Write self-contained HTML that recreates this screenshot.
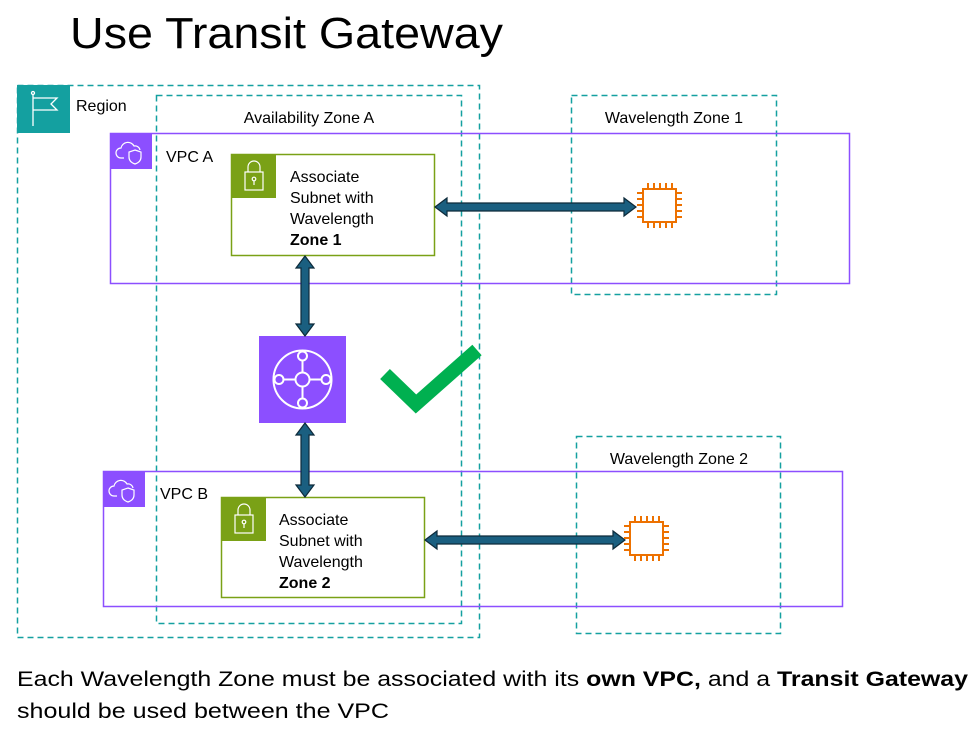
<!DOCTYPE html>
<html><head><meta charset="utf-8"><style>
html,body{margin:0;padding:0;background:#fff;}
svg{display:block;font-family:"Liberation Sans",sans-serif;}
</style></head><body>
<svg width="975" height="730" viewBox="0 0 975 730" xmlns="http://www.w3.org/2000/svg">
<text x="70" y="48" font-size="44" fill="#000" textLength="433" lengthAdjust="spacingAndGlyphs">Use Transit Gateway</text>

<!-- Region -->
<rect x="17.5" y="85.5" width="462" height="552" fill="none" stroke="#14a0a0" stroke-width="1.5" stroke-dasharray="6,4"/>
<rect x="17" y="85" width="53" height="48" fill="#14a0a0"/>
<g stroke="#fff" stroke-width="1.3" fill="none"><line x1="33" y1="94" x2="33" y2="126"/><circle cx="33" cy="93" r="1.5"/><path d="M33 98 H57 L51 104 L57 110 H33"/></g>
<text x="76" y="111" font-size="16">Region</text>

<!-- AZ A -->
<rect x="156.5" y="95.5" width="305" height="528" fill="none" stroke="#14a0a0" stroke-width="1.5" stroke-dasharray="6,4"/>
<text x="309" y="123" font-size="16" text-anchor="middle">Availability Zone A</text>

<!-- WZ1 -->
<rect x="571.5" y="95.5" width="205" height="199" fill="none" stroke="#14a0a0" stroke-width="1.5" stroke-dasharray="6,4"/>
<text x="674" y="123" font-size="16" text-anchor="middle">Wavelength Zone 1</text>
<!-- WZ2 -->
<rect x="576.5" y="436.5" width="204" height="197" fill="none" stroke="#14a0a0" stroke-width="1.5" stroke-dasharray="6,4"/>
<text x="679" y="464" font-size="16" text-anchor="middle">Wavelength Zone 2</text>

<!-- VPC A -->
<rect x="110.5" y="133.5" width="739" height="150" fill="none" stroke="#8c4fff" stroke-width="1.5"/>
<rect x="110" y="133" width="42" height="36" fill="#8c4fff"/>
<g stroke="#fff" stroke-width="1.2" fill="none"><path d="M124 158 h-3 a5 5 0 0 1 0-10 a7 7 0 0 1 13-2 a5 5 0 0 1 6 4"/><path d="M135 150 l6 2 v5 q0 5 -6 7 q-6-2 -6-7 v-5 z"/></g>
<text x="166" y="162" font-size="16">VPC A</text>

<!-- VPC B -->
<rect x="103.5" y="471.5" width="739" height="135" fill="none" stroke="#8c4fff" stroke-width="1.5"/>
<rect x="103" y="471" width="42" height="36" fill="#8c4fff"/>
<g stroke="#fff" stroke-width="1.2" fill="none"><path d="M117 496 h-3 a5 5 0 0 1 0-10 a7 7 0 0 1 13-2 a5 5 0 0 1 6 4"/><path d="M128 488 l6 2 v5 q0 5 -6 7 q-6-2 -6-7 v-5 z"/></g>
<text x="160" y="499" font-size="16">VPC B</text>

<!-- Subnet A -->
<rect x="231.5" y="154.5" width="203" height="101" fill="#fff" stroke="#7aa116" stroke-width="1.5"/>
<rect x="231" y="154" width="45" height="44" fill="#7aa116"/>
<g stroke="#fff" stroke-width="1.2" fill="none"><rect x="245" y="172" width="18" height="18"/><path d="M248 172 v-5 a6 6 0 0 1 12 0 v5"/><circle cx="254" cy="179" r="1.8"/><line x1="254" y1="181" x2="254" y2="185"/></g>
<g font-size="16"><text x="290" y="182">Associate</text><text x="290" y="203">Subnet with</text><text x="290" y="224">Wavelength</text><text x="290" y="245" font-weight="bold">Zone 1</text></g>

<!-- Subnet B -->
<rect x="221.5" y="497.5" width="203" height="100" fill="#fff" stroke="#7aa116" stroke-width="1.5"/>
<rect x="221" y="497" width="45" height="44" fill="#7aa116"/>
<g stroke="#fff" stroke-width="1.2" fill="none"><rect x="235" y="515" width="18" height="18"/><path d="M238 515 v-5 a6 6 0 0 1 12 0 v5"/><circle cx="244" cy="522" r="1.8"/><line x1="244" y1="524" x2="244" y2="528"/></g>
<g font-size="16"><text x="279" y="525">Associate</text><text x="279" y="546">Subnet with</text><text x="279" y="567">Wavelength</text><text x="279" y="588" font-weight="bold">Zone 2</text></g>

<!-- TGW -->
<rect x="259" y="336" width="87" height="87" fill="#8c4fff"/>
<g stroke="#fff" stroke-width="2" fill="none"><circle cx="302.5" cy="379.5" r="29"/><circle cx="302.5" cy="379.5" r="7"/><circle cx="302.5" cy="356" r="4.5"/><circle cx="302.5" cy="403" r="4.5"/><circle cx="279" cy="379.5" r="4.5"/><circle cx="326" cy="379.5" r="4.5"/><line x1="302.5" y1="360.5" x2="302.5" y2="372.5"/><line x1="302.5" y1="386.5" x2="302.5" y2="398.5"/><line x1="283.5" y1="379.5" x2="295.5" y2="379.5"/><line x1="309.5" y1="379.5" x2="321.5" y2="379.5"/></g>

<!-- Arrows -->
<g fill="#1a5f80" stroke="#0d2a3a" stroke-width="1.2">
<polygon points="435,207 447,198 447,203 624,203 624,198 636,207 624,216 624,211 447,211 447,216"/>
<polygon points="425,540 437,531 437,536 613,536 613,531 625,540 613,549 613,544 437,544 437,549"/>
<polygon points="305,256 296,268 301,268 301,324 296,324 305,336 314,324 309,324 309,268 314,268"/>
<polygon points="305,423 296,435 301,435 301,485 296,485 305,497 314,485 309,485 309,435 314,435"/>
</g>

<!-- Chips -->
<g stroke="#ed7100" stroke-width="2" fill="none">
<rect x="643" y="189" width="33" height="33"/>
<path d="M648 189v-6M654 189v-6M660 189v-6M666 189v-6M672 189v-6 M648 222v6M654 222v6M660 222v6M666 222v6M672 222v6 M643 193h-6M643 199h-6M643 205h-6M643 211h-6M643 217h-6 M676 193h6M676 199h6M676 205h6M676 211h6M676 217h6"/>
<rect x="630" y="522" width="33" height="33"/>
<path d="M635 522v-6M641 522v-6M647 522v-6M653 522v-6M659 522v-6 M635 555v6M641 555v6M647 555v6M653 555v6M659 555v6 M630 526h-6M630 532h-6M630 538h-6M630 544h-6M630 550h-6 M663 526h6M663 532h6M663 538h6M663 544h6M663 550h6"/>
</g>

<!-- Check -->
<polyline points="385,374 416,404 477,350" fill="none" stroke="#00b050" stroke-width="14"/>

<!-- Bottom text -->
<text x="17" y="686" font-size="21" textLength="951" lengthAdjust="spacingAndGlyphs">Each Wavelength Zone must be associated with its <tspan font-weight="bold">own VPC,</tspan> and a <tspan font-weight="bold">Transit Gateway</tspan></text>
<text x="17" y="718" font-size="21" textLength="372" lengthAdjust="spacingAndGlyphs">should be used between the VPC</text>
</svg>
</body></html>
